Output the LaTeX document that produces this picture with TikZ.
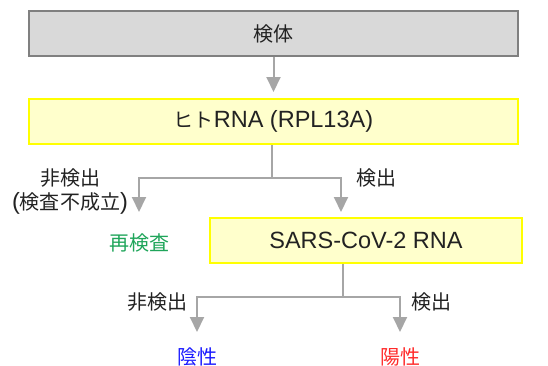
\documentclass[tikz,border=0pt]{standalone}
\usepackage{fontspec}
\setmainfont{Noto Sans CJK JP}
\newfontfamily\latfont{Liberation Sans}
\newcommand\latn[1]{{\latfont\fontsize{23.5}{28}\selectfont #1}}
\usetikzlibrary{arrows.meta}
\definecolor{boxgray}{HTML}{D9D9D9}
\definecolor{boxgrayline}{HTML}{808080}
\definecolor{boxyellow}{HTML}{FFFFCC}
\definecolor{lineyellow}{HTML}{FFFF00}
\definecolor{conn}{HTML}{A6A6A6}
\definecolor{txtgreen}{HTML}{1FA55A}
\definecolor{txtblue}{HTML}{1A1AFF}
\definecolor{txtred}{HTML}{FF2A2A}
\definecolor{txt}{HTML}{222222}
\tikzset{
  graybox/.style={draw=boxgrayline, fill=boxgray, line width=1.5pt, minimum width=489pt, minimum height=45pt, inner sep=0pt, text=txt},
  yellowbox/.style={draw=lineyellow, fill=boxyellow, line width=2pt, minimum height=45pt, inner sep=0pt, text=txt},
  lbl/.style={inner sep=0pt, text=txt, align=center},
  conline/.style={draw=conn, line width=2pt},
  conarrow/.style={conline, -{Triangle[width=14pt,length=15pt]}},
}
\begin{document}
\begin{tikzpicture}[x=1pt,y=1pt,font=\fontsize{20}{25}\selectfont]
\useasboundingbox (0,0) rectangle (548,365);
\node[graybox] (top) at (273.5,331.5) {検体};
\node[yellowbox, minimum width=489pt] (rna) at (273.5,243.5) {ヒト\latn{RNA (RPL13A)}};
\node[yellowbox, minimum width=312pt] (sars) at (366,124.5) {\latn{SARS-CoV-2 RNA}};
\node[inner sep=0pt, text=txtgreen] (re) at (139,122) {再検査};
\node[inner sep=0pt, text=txtblue] (neg) at (197,8.5) {陰性};
\node[inner sep=0pt, text=txtred] (pos) at (400,8.5) {陽性};
% labels
\node[lbl] (l1) at (70,187) {非検出};
\node[lbl] (l1b) at (70,162) {\latn{(}検査不成立\latn{)}};
\node[lbl] (l2) at (376,187) {検出};
\node[lbl] (l3) at (157,63) {非検出};
\node[lbl] (l4) at (431,63) {検出};
% coordinates
\coordinate (j1) at (272,187);
\coordinate (j1l) at (139,187);
\coordinate (j1r) at (341,187);
\coordinate (e1l) at (139,153);
\coordinate (e1r) at (341,153);
\coordinate (j2) at (343,68);
\coordinate (j2l) at (197,68);
\coordinate (j2r) at (400,68);
\coordinate (e2l) at (197,33);
\coordinate (e2r) at (400,33);
% connectors
\draw[conarrow] (top.south) -- ([yshift=6pt]rna.north);
\draw[conline] (rna.south -| j1) -- (j1);
\draw[conarrow] (j1) -- (j1l) -- (e1l);
\draw[conarrow] (j1) -- (j1r) -- (e1r);
\draw[conline] (sars.south -| j2) -- (j2);
\draw[conarrow] (j2) -- (j2l) -- (e2l);
\draw[conarrow] (j2) -- (j2r) -- (e2r);
\end{tikzpicture}
\end{document}
